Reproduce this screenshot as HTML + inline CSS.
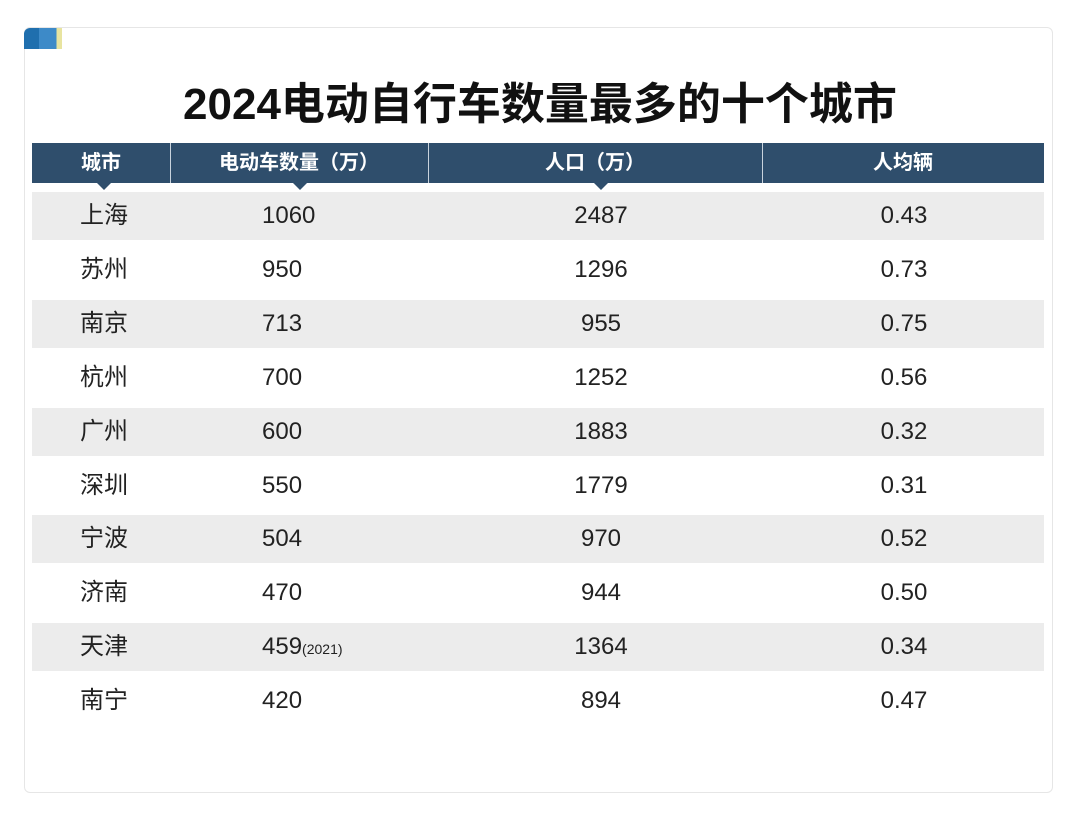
<!DOCTYPE html>
<html><head><meta charset="utf-8"><style>
body{margin:0;width:1080px;height:818px;background:#fff;font-family:"Liberation Sans","Noto Sans CJK SC",sans-serif;position:relative;overflow:hidden}
.card{position:absolute;left:24px;top:27px;width:1029px;height:766px;border:1px solid #e6e6e6;border-radius:6px;box-sizing:border-box}
.badge{position:absolute;left:24px;top:28px;width:38px;height:21px;background:linear-gradient(90deg,#1f6fae 0 40%,#3d8ac8 40% 85%,#e8e4a0 85%);border-top-left-radius:6px}
.title{position:absolute;left:0;width:1080px;top:68px;text-align:center;font-size:44px;font-weight:bold;color:#111;font-family:"Liberation Sans","Noto Sans CJK SC",sans-serif}
.hdr{position:absolute;left:32px;top:143px;width:1012px;height:40px;background:#2f4e6c}
.hc{position:absolute;top:0;height:40px;line-height:40px;color:#fff;font-size:20px;text-align:center;font-weight:bold}
.div{position:absolute;top:0;width:1px;height:40px;background:#c9d3dd}
.tri{position:absolute;top:40px;width:0;height:0;border-left:7px solid transparent;border-right:7px solid transparent;border-top:7px solid #2f4e6c}
.row{position:absolute;left:32px;width:1012px;height:48px}
.row.g{background:#ececec}
.c{position:absolute;top:0;height:48px;line-height:48px;font-size:24px;color:#222}
small{font-size:14px}
</style></head><body>
<div class="card"></div>
<div class="badge"></div>
<div class="title">2024电动自行车数量最多的十个城市</div>
<div class="hdr">
<div class="hc" style="left:0;width:138px">城市</div>
<div class="div" style="left:138px"></div>
<div class="hc" style="left:138px;width:258px">电动车数量（万）</div>
<div class="div" style="left:396px"></div>
<div class="hc" style="left:396px;width:334px">人口（万）</div>
<div class="div" style="left:730px"></div>
<div class="hc" style="left:730px;width:282px">人均辆</div>
<div class="tri" style="left:65px"></div>
<div class="tri" style="left:261px"></div>
<div class="tri" style="left:562px"></div>
</div>
<div id="rows"></div>
<script>
const cities=["上海","苏州","南京","杭州","广州","深圳","宁波","济南","天津","南宁"];
const ebikes=["1060","950","713","700","600","550","504","470","459","420"];
const notes=["","","","","","","","","(2021)",""];
const population=["2487","1296","955","1252","1883","1779","970","944","1364","894"];
const perCapita=["0.43","0.73","0.75","0.56","0.32","0.31","0.52","0.50","0.34","0.47"];
const host=document.getElementById('rows');
cities.forEach((c,i)=>{
const r=document.createElement('div');
r.className='row'+(i%2===0?' g':'');
r.style.top=(192+i*53.9)+'px';


r.innerHTML='<div class="c" style="left:0;width:144px;text-align:center">'+c+'</div>'+
'<div class="c" style="left:230px">'+ebikes[i]+(notes[i]?'<small>'+notes[i]+'</small>':'')+'</div>'+
'<div class="c" style="left:396px;width:346px;text-align:center">'+population[i]+'</div>'+
'<div class="c" style="left:730px;width:284px;text-align:center">'+perCapita[i]+'</div>';
host.appendChild(r);
});
</script>
</body></html>
